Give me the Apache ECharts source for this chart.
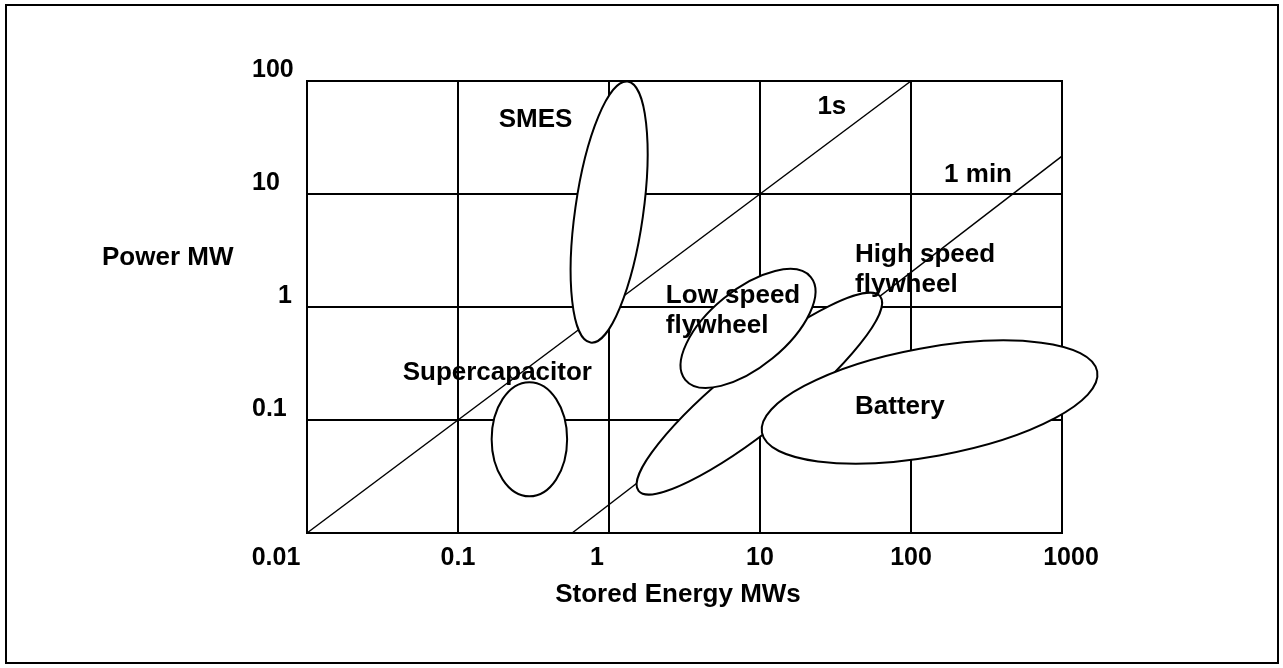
<!DOCTYPE html>
<html>
<head>
<meta charset="utf-8">
<script src="https://cdn.jsdelivr.net/npm/echarts@6/dist/echarts.min.js"></script>
<style>
  html, body { margin: 0; background: #fff; }
  #chart { width: 1283px; height: 668px; }
</style>
</head>
<body>
<div id="chart"></div>
<script>
const FONT = "'Liberation Sans', Arial, Helvetica, sans-serif";

// constant discharge-time lines: [stored energy MWs, power MW]
const line1s = [[0.01, 0.01], [100, 100]];
const line1min = [[0.57, 0.01], [1000, 21.6]];

// technology regions, drawn bottom to top
const techNames = ['High speed flywheel', 'Low speed flywheel', 'Battery', 'SMES', 'Supercapacitor'];
// one end of the long axis of each region
const regionEndA = [[62.5, 1.24], [21.7, 1.84], [1710, 0.269], [1.33, 98.8], [0.297, 0.216]];
// other end of the long axis
const regionEndB = [[1.57, 0.0236], [3.2, 0.227], [10.3, 0.0773], [0.755, 0.484], [0.297, 0.0211]];
// tip of the short axis
const regionSideTip = [[7.13, 0.296], [5.74, 1.19], [114.5, 0.428], [1.675, 6.27], [0.528, 0.0675]];

// text placed in the plot (left edge, middle)
const noteTexts = ['SMES', 'Supercapacitor', 'Low speed\nflywheel', 'High speed\nflywheel', 'Battery', '1s', '1 min'];
const noteAt = [[0.186, 45], [0.043, 0.263], [2.38, 0.93], [42.6, 2.14], [42.6, 0.13], [24.0, 58.7], [165.6, 14.7]];

// tick labels that sit off their grid line in the original
const xTickStyle = { '0.01': 'w31', '1': 'w12', '1000': 'e9' };
const yTickStyle = { '1': 'e26' };

function tickText(v) {
  return String(Number(v.toPrecision(3)));
}

function tickLabel(styles) {
  return v => {
    const t = tickText(v);
    return styles[t] ? '{' + styles[t] + '|' + t + '}' : t;
  };
}

function richStyles(lineHeight) {
  const base = { fontFamily: FONT, fontWeight: 'bold', fontSize: 25, color: '#000', lineHeight: lineHeight };
  return {
    w31: Object.assign({ padding: [0, 62, 0, 0] }, base),
    w12: Object.assign({ padding: [0, 24, 0, 0] }, base),
    e9: Object.assign({ padding: [0, 0, 0, 18] }, base),
    e26: Object.assign({ padding: [0, 0, 0, 26] }, base)
  };
}

function renderRegion(params, api) {
  const a = api.coord([api.value(0), api.value(1)]);
  const b = api.coord([api.value(2), api.value(3)]);
  const m = api.coord([api.value(4), api.value(5)]);
  const cx = (a[0] + b[0]) / 2;
  const cy = (a[1] + b[1]) / 2;
  const dx = a[0] - b[0];
  const dy = a[1] - b[1];
  const len = Math.hypot(dx, dy);
  const ry = Math.abs((m[0] - cx) * dy / len - (m[1] - cy) * dx / len);
  return {
    type: 'ellipse',
    x: cx,
    y: cy,
    rotation: -Math.atan2(dy, dx),
    shape: { cx: 0, cy: 0, rx: len / 2, ry: ry },
    style: { fill: '#fff', stroke: '#000', lineWidth: 2 }
  };
}

function renderNote(params, api) {
  const p = api.coord([api.value(0), api.value(1)]);
  return {
    type: 'text',
    x: p[0],
    y: p[1],
    style: {
      text: noteTexts[params.dataIndex],
      fontFamily: FONT,
      fontWeight: 'bold',
      fontSize: 26,
      lineHeight: 30,
      fill: '#000',
      textAlign: 'left',
      textVerticalAlign: 'middle'
    }
  };
}

const regionData = techNames.map((name, i) => ({
  name: name,
  value: [regionEndA[i][0], regionEndA[i][1], regionEndB[i][0], regionEndB[i][1], regionSideTip[i][0], regionSideTip[i][1]]
}));

const chart = echarts.init(document.getElementById('chart'), null, { renderer: 'canvas' });
chart.setOption({
  animation: false,
  backgroundColor: '#fff',
  grid: { left: 307, top: 81, width: 755, height: 452, show: true, borderColor: '#000', borderWidth: 2 },
  xAxis: {
    type: 'log',
    logBase: 10,
    min: 0.01,
    max: 1000,
    splitNumber: 5,
    axisLine: { show: true, lineStyle: { color: '#000', width: 2 } },
    axisTick: { show: false },
    splitLine: { show: true, lineStyle: { color: '#000', width: 2 } },
    axisLabel: {
      margin: 25,
      verticalAlign: 'middle',
      color: '#000',
      fontFamily: FONT,
      fontWeight: 'bold',
      fontSize: 25,
      formatter: tickLabel(xTickStyle),
      rich: richStyles(30)
    }
  },
  yAxis: {
    type: 'log',
    logBase: 10,
    min: 0.01,
    max: 100,
    splitNumber: 4,
    axisLine: { show: true, lineStyle: { color: '#000', width: 2 } },
    axisTick: { show: false },
    splitLine: { show: true, lineStyle: { color: '#000', width: 2 } },
    axisLabel: {
      margin: 55,
      align: 'left',
      verticalAlign: 'bottom',
      lineHeight: 22,
      color: '#000',
      fontFamily: FONT,
      fontWeight: 'bold',
      fontSize: 25,
      formatter: v => (v < 0.05 ? '' : tickLabel(yTickStyle)(v)),
      rich: richStyles(22)
    }
  },
  graphic: [
    {
      type: 'rect',
      shape: { x: 6, y: 5, width: 1272, height: 658 },
      style: { fill: 'none', stroke: '#000', lineWidth: 2 },
      silent: true
    },
    {
      type: 'text',
      x: 102,
      y: 258,
      style: { text: 'Power MW', font: 'bold 26px ' + FONT, fill: '#000', textAlign: 'left', textVerticalAlign: 'middle' }
    },
    {
      type: 'text',
      x: 678,
      y: 595,
      style: { text: 'Stored Energy MWs', font: 'bold 26px ' + FONT, fill: '#000', textAlign: 'center', textVerticalAlign: 'middle' }
    }
  ],
  series: [
    {
      name: '1s',
      type: 'line',
      data: line1s,
      symbol: 'none',
      z: 2,
      lineStyle: { color: '#000', width: 1.5 }
    },
    {
      name: '1 min',
      type: 'line',
      data: line1min,
      symbol: 'none',
      z: 2,
      lineStyle: { color: '#000', width: 1.5 }
    },
    {
      name: 'regions',
      type: 'custom',
      renderItem: renderRegion,
      clip: false,
      z: 3,
      encode: { x: [0, 2, 4], y: [1, 3, 5] },
      data: regionData
    },
    {
      name: 'notes',
      type: 'custom',
      renderItem: renderNote,
      clip: false,
      z: 4,
      encode: { x: 0, y: 1 },
      data: noteAt
    }
  ]
});
</script>
</body>
</html>
